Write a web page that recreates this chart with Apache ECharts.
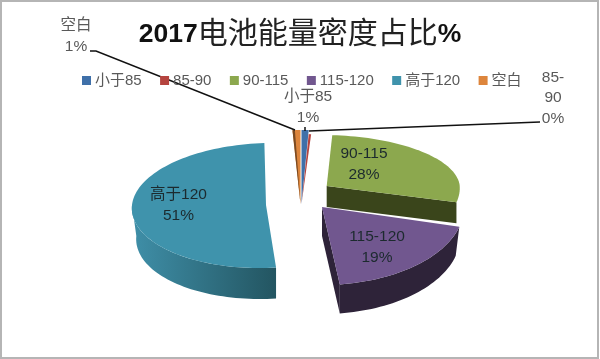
<!DOCTYPE html>
<html>
<head>
<meta charset="utf-8">
<style>html,body{margin:0;padding:0;background:#fff}#chart{width:600px;height:359px;filter:blur(0.4px)}</style>
<script src="https://cdn.jsdelivr.net/npm/echarts@6/dist/echarts.min.js"></script>
</head>
<body>
<div id="chart"></div>
<script>
var categories = ['小于85', '85-90', '90-115', '115-120', '高于120', '空白'];
var shares = [0.9, 0.3, 27.9, 18.9, 51, 1.0];
var colors = ['#3f70a9', '#b5443f', '#8ca84e', '#71578f', '#3f93ac', '#dd853c'];
var labelNames = ['小于85', '85-\n90', '90-115', '115-120', '高于120', '空白'];

var FONT = '"Liberation Sans","Noto Sans CJK SC",sans-serif';

// hand fitted projection of each exploded slice, the picture is a squashed 3d pie
var sliceGeom = [
    {cx: 301.5, cy: 204, a: 128, bBack: 74, bFront: 74, k: 0, depth: 0, lx: 308, ly: 107, outside: true, lead: [[305, 127], [305, 131]]},
    {cx: 301.5, cy: 204, a: 128, bBack: 70, bFront: 70, k: 0, depth: 0, lx: 553, ly: 98, outside: true, lead: [[309, 131], [540, 122]]},
    {cx: 326.7, cy: 186, a: 133, bBack: 51, bFront: 64, k: 4.5, depth: 21, wall: '#3a451b', lx: 364, ly: 164},
    {cx: 322, cy: 207, a: 142, bBack: 76, bFront: 78, k: 0, depth: 29, shrink: 0.03, wall: '#2e2339', lx: 377, ly: 247},
    {cx: 266, cy: 205, a: 134, bBack: 62, bFront: 63, k: -6.8, depth: 31, shrink: 0.03, wall: {type: 'linear', x: 0, y: 0, x2: 1, y2: 0, colorStops: [{offset: 0, color: '#3f8fa8'}, {offset: 1, color: '#235561'}]}, lx: 178.5, ly: 205},
    {cx: 300.5, cy: 204, a: 128, bBack: 74, bFront: 74, k: 0, depth: 0, sliver: '#7a4a22', lx: 76, ly: 36, outside: true, lead: [[295, 130], [96, 51], [90, 51]]}
];

var total = shares.reduce(function(a, b) { return a + b; }, 0);

function pt(g, deg) {
    var r = deg * Math.PI / 180;
    var s = Math.sin(r), c = Math.cos(r);
    return [g.cx + g.a * s - g.k * c, g.cy - (c > 0 ? g.bBack : g.bFront) * c];
}

function arc(g, from, to) {
    var pts = [], n = Math.max(2, Math.ceil((to - from) / 2));
    for (var i = 0; i <= n; i++) {
        pts.push(pt(g, from + (to - from) * i / n));
    }
    return pts;
}

// lower rim of a wall, pulled in a little towards its near end for the perspective
function down(pts, d, shrink, nearX) {
    return pts.map(function(p) {
        return [p[0] + (nearX - p[0]) * (shrink || 0), p[1] + d];
    }).reverse();
}

function poly(points, fill) {
    return {type: 'polygon', shape: {points: points}, style: {fill: fill}};
}

function makeRender(idx) {
    return function(params, api) {
        var g = sliceGeom[idx];
        var before = 0;
        for (var i = 0; i < idx; i++) before += shares[i];
        var start = before / total * 360;
        var value = api.value(0);
        var end = start + value / total * 360;
        var kids = [];
        var apex = [g.cx, g.cy];

        // side walls first, top face over them
        if (idx == 3 || idx == 4) {
            var from = Math.max(start, 90), to = Math.min(end, 270);
            var rim = arc(g, from, to);
            kids.push(poly(rim.concat(down(rim, g.depth, g.shrink, pt(g, 172.8)[0])), g.wall));
        }
        if (idx == 2 || idx == 3) {
            var edge = [apex, pt(g, end)];
            kids.push(poly(edge.concat(down(edge, g.depth, 0, 0)), g.wall));
        }
        kids.push(poly([apex].concat(arc(g, start, end)), colors[idx]));
        if (g.sliver) {
            kids.push(poly([apex, pt(g, start), pt(g, start + (end - start) * 0.3)], g.sliver));
        }

        if (g.lead) {
            kids.push({type: 'polyline', shape: {points: g.lead}, style: {fill: null, stroke: '#111', lineWidth: 1.5}});
        }
        kids.push({
            type: 'text',
            x: g.lx,
            y: g.ly,
            style: {
                text: labelNames[idx] + '\n' + Math.round(value / total * 100) + '%',
                font: '15.5px ' + FONT,
                fill: g.outside ? '#595959' : '#1c2a2e',
                align: 'center',
                verticalAlign: 'middle',
                lineHeight: 20.5
            }
        });
        return {type: 'group', children: kids};
    };
}

var series = [];
for (var i = 0; i < categories.length; i++) {
    series.push({
        type: 'custom',
        name: categories[i],
        coordinateSystem: 'none',
        silent: true,
        itemStyle: {color: colors[i]},
        renderItem: makeRender(i),
        data: [[shares[i]]]
    });
}

var option = {
    animation: false,
    title: {
        text: '{a|2017}{b|电池能量密度占比}{a|%}',
        left: 'center',
        top: 15,
        textStyle: {
            rich: {
                a: {fontFamily: FONT, fontSize: 26.5, fontWeight: 'bold', color: '#111'},
                b: {fontFamily: FONT, fontSize: 30, fontWeight: 'normal', color: '#222'}
            }
        }
    },
    legend: {
        left: 77,
        top: 68,
        data: categories,
        icon: 'rect',
        itemWidth: 9,
        itemHeight: 9,
        itemGap: 18.4,
        textStyle: {fontFamily: FONT, fontSize: 15, color: '#595959', padding: [0, 0, 0, -1]}
    },
    graphic: [{
        type: 'rect',
        shape: {x: 1, y: 1, width: 597, height: 357},
        style: {fill: null, stroke: '#b5b5b5', lineWidth: 2},
        silent: true
    }],
    series: series
};

var chart = echarts.init(document.getElementById('chart'));
chart.setOption(option);
</script>
</body>
</html>
